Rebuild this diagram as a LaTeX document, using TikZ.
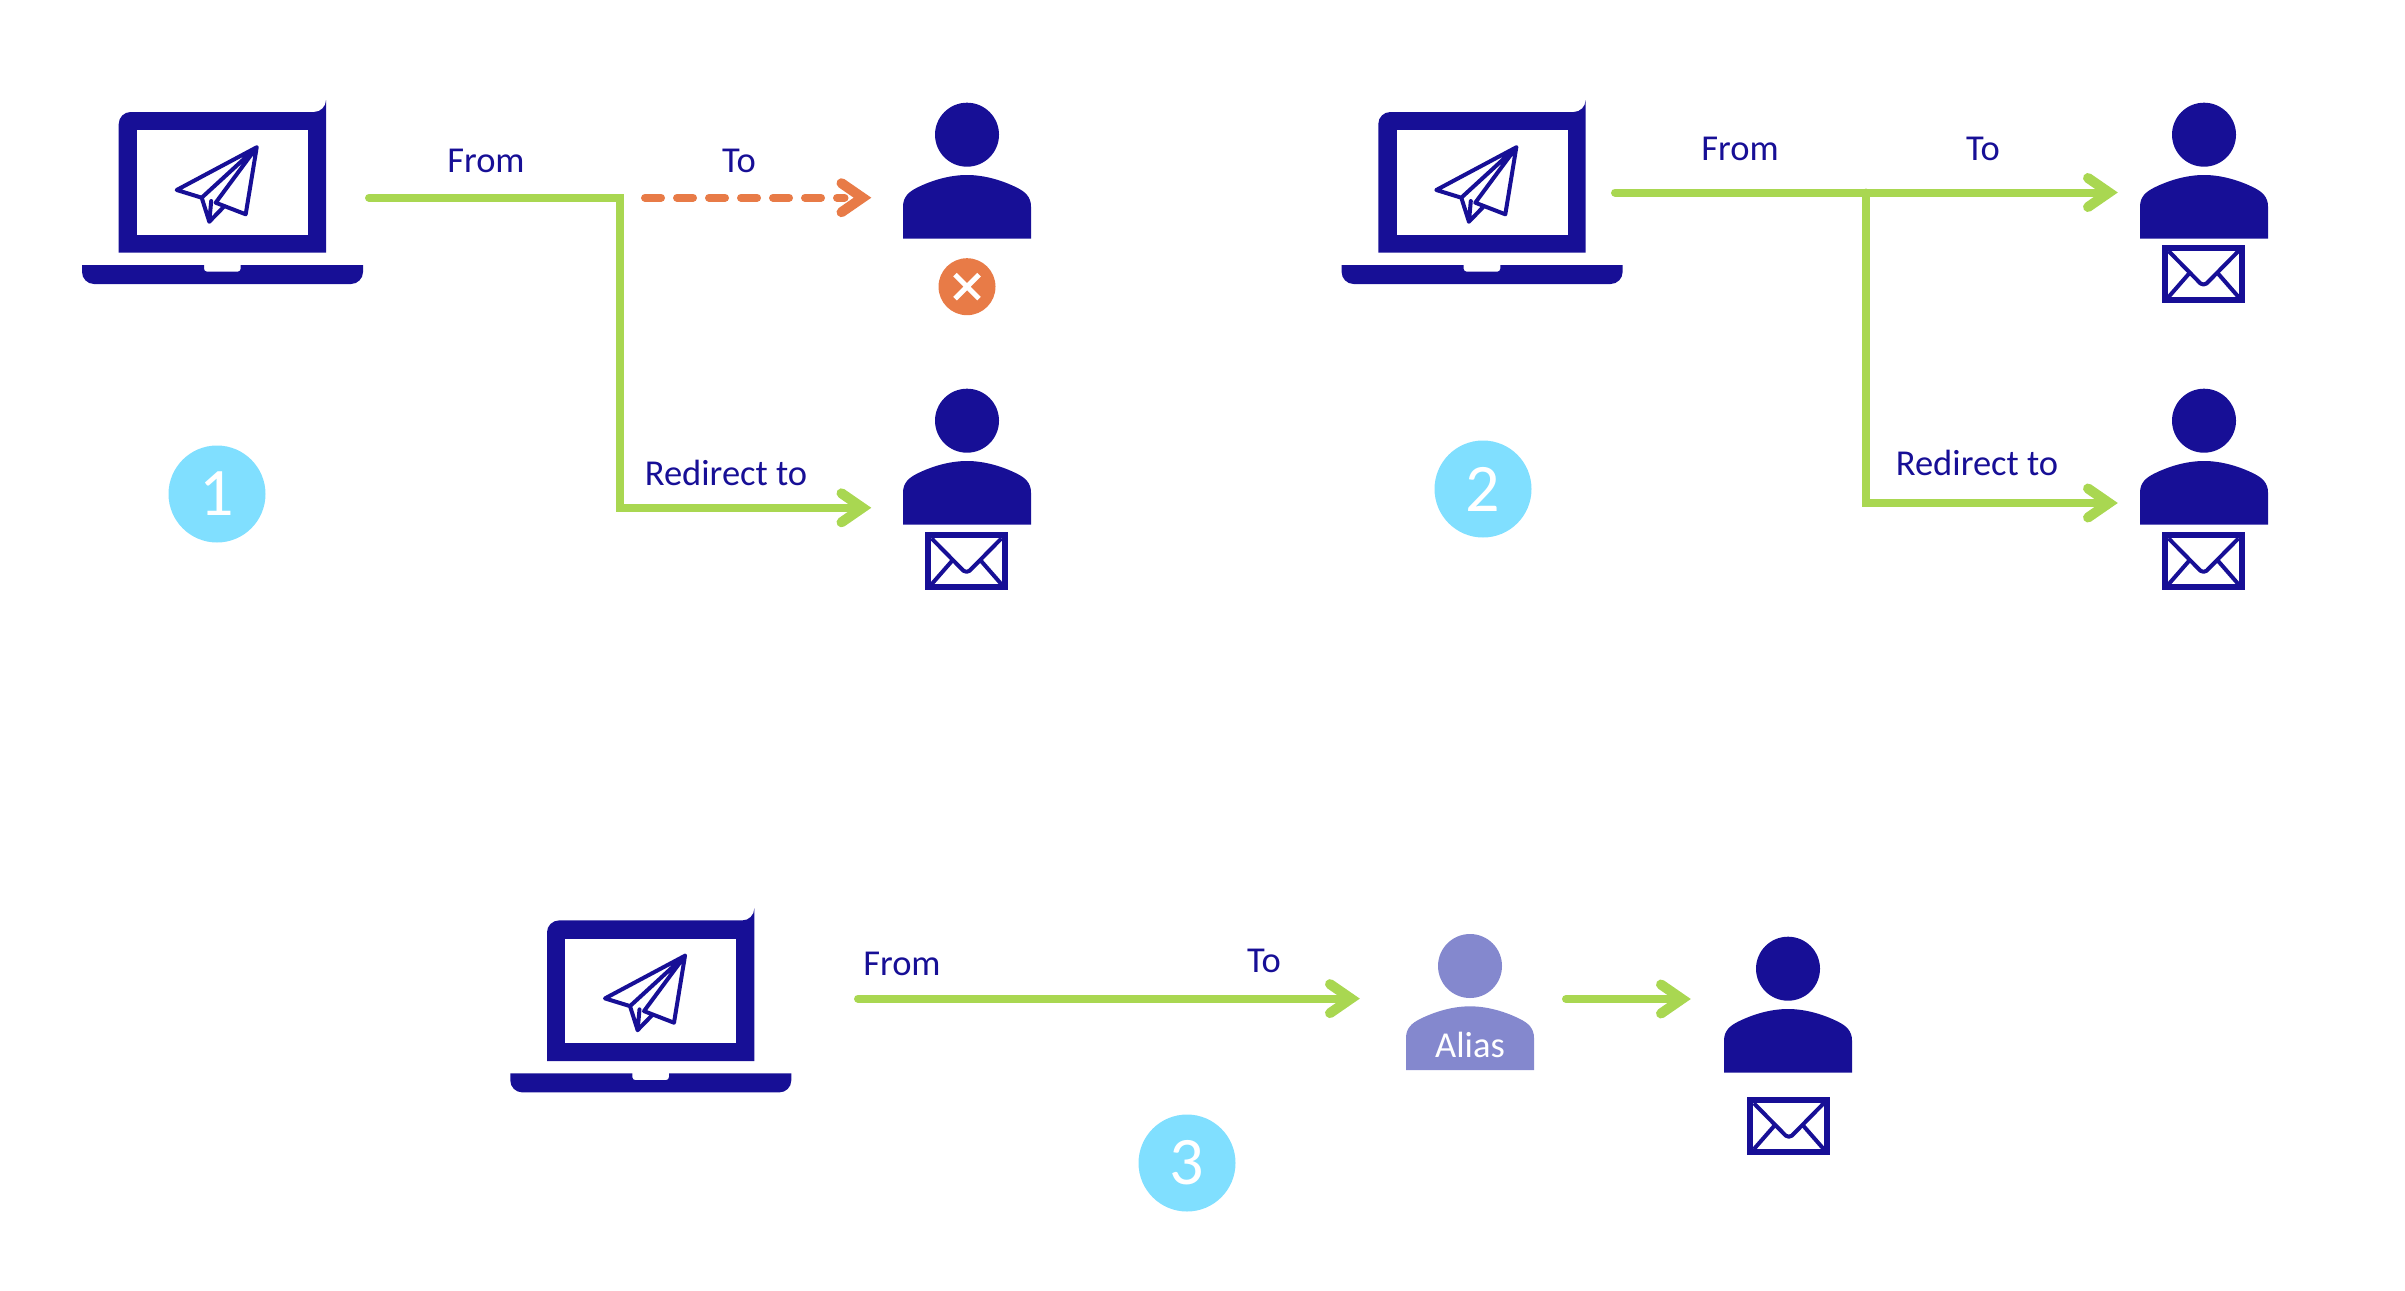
\documentclass[tikz,border=0pt]{standalone}
\usepackage{fontspec}
\setmainfont{Carlito}
\definecolor{navy}{HTML}{170F96}
\definecolor{lime}{HTML}{A9D751}
\definecolor{tang}{HTML}{E87B47}
\definecolor{sky}{HTML}{80DFFF}
\definecolor{aliasc}{HTML}{8488CE}
\tikzset{
  lab/.style={text=navy,font=\fontsize{36.5}{40}\selectfont,inner sep=0pt,anchor=base},
  numdisc/.style={circle,fill=sky,minimum size=97pt,inner sep=0pt,text=white,font=\fontsize{68}{72}\selectfont},
  wire/.style={draw=lime,line width=8pt,line cap=round,line join=miter},
  dashwire/.style={draw=tang,line width=8pt,line cap=round,dash pattern=on 16pt off 16pt},
  headl/.style={line width=10pt,line cap=round,line join=miter,miter limit=20},
}
% laptop at top-left of screen
\newcommand{\laptop}[3]{%
 \begin{scope}[shift={(#1,#2)}]
  \node[inner sep=0pt,minimum size=0pt] (#3) at (104,85) {};
  \fill[navy,even odd rule] [rounded corners=12pt] (0,140.7) [sharp corners] -- (0,140.7) [rounded corners=12pt] -- (0,0) -- (207.3,0) [sharp corners] -- (207.3,0) -- (207.3,140.7) -- cycle;
  \fill[white] (18.3,18.3) rectangle (189.3,122.7);
  \fill[navy] (-36.7,153) -- (85.3,153) [rounded corners=3pt] -- (85.3,159.7) -- (122,159.7) [sharp corners] -- (122,153) -- (244.3,153) [rounded corners=12pt] -- (244.3,172) -- (-36.7,172) [sharp corners] -- cycle;
  \draw[navy,line width=4pt,line join=round,line cap=round]
    (138,35.3) -- (58,78) -- (83,85.7) -- (90.6,109.7) -- (104.6,95.3)
    (138,35.3) -- (83,85.7)
    (138,35.3) -- (127,102.3) -- (97,90.7) -- (138,35.3)
    (92.5,89) -- (90.6,109.7);
 \end{scope}}
% person: head centre x,y
\newcommand{\person}[4]{%
 \begin{scope}[shift={(#1,#2)}]
  \fill[#3] (0,0) circle[radius=32];
  \node[inner sep=0pt] (#4) at (0,50) {};
  \fill[#3] (-64,104) -- (-64,72) .. controls (-64,62) and (-58,57) .. (-50,53) .. controls (-36,46) and (-18,40.3) .. (0,40.3) .. controls (18,40.3) and (36,46) .. (50,53) .. controls (58,57) and (64,62) .. (64,72) -- (64,104) -- cycle;
 \end{scope}}
% envelope: centre x,y
\newcommand{\envelope}[3]{%
 \begin{scope}[shift={(#1,#2)}]
  \node[inner sep=0pt] (#3) at (0,0) {};
  \draw[navy,line width=6pt,line join=miter] (-38.5,-26) rectangle (38.5,26);
  \draw[navy,line width=4pt,line join=round] (-35,-23) -- (-3,9.5) -- (0,10.5) -- (3,9.5) -- (35,-23);
  \draw[navy,line width=4pt] (-14,-1) -- (-35,23) (14,-1) -- (35,23);
 \end{scope}}
\newcommand{\headat}[2]{%
  \draw[#2,headl] ([shift={(-31,-14.5)}]#1) -- ([xshift=-10pt]#1) -- ([shift={(-31,14.5)}]#1);}
\begin{document}
\begin{tikzpicture}[x=1pt,y=-1pt]
\useasboundingbox (0,0) rectangle (2405,1290);
\laptop{118.7}{112}{lapA}
\laptop{1378.3}{112}{lapB}
\laptop{547}{920.4}{lapC}
\person{967}{134.7}{navy}{pA}
\person{967}{420.7}{navy}{pB}
\person{2204}{134.7}{navy}{pC}
\person{2204}{420.7}{navy}{pD}
\person{1470}{966}{aliasc}{pE}
\person{1788}{968.7}{navy}{pF}
\envelope{966.5}{561.3}{eA}
\envelope{2203.5}{274}{eB}
\envelope{2203.5}{561.3}{eC}
\envelope{1788.8}{1126.2}{eD}
% reject badge
\node[circle,fill=tang,minimum size=57pt,inner sep=0pt] (bad) at (967,286.7) {};
\draw[white,line width=5pt] ([shift={(-12,-12)}]bad.center) -- ([shift={(12,12)}]bad.center) ([shift={(12,-12)}]bad.center) -- ([shift={(-12,12)}]bad.center);
% discs
\node[numdisc] (nA) at (217,494) {1};
\node[numdisc] (nB) at (1483,489) {2};
\node[numdisc] (nC) at (1187,1163) {3};
% coordinates
\coordinate (a0) at (369,197.7);
\coordinate (a1) at (620,197.7);
\coordinate (a2) at (620,507.8);
\coordinate (a3) at (872.5,507.8);
\coordinate (a4) at (645,197.7);
\coordinate (a5) at (872.5,197.7);
\coordinate (b0) at (1615,192.5);
\coordinate (b1) at (2119,192.5);
\coordinate (b2) at (1866,192.5);
\coordinate (b3) at (1866,503);
\coordinate (b4) at (2119,503);
\coordinate (c0) at (858,998.6);
\coordinate (c1) at (1361,998.6);
\coordinate (c2) at (1566,999);
\coordinate (c3) at (1692,999);
\draw[wire] (a0) -- (a1) -- (a2) -- ([xshift=-12pt]a3);
\headat{a3}{lime}
\draw[dashwire] (a4) -- ([xshift=-28pt]a5);
\headat{a5}{tang}
\draw[wire] (b0) -- ([xshift=-12pt]b1);
\draw[wire] (b2) -- (b3) -- ([xshift=-12pt]b4);
\headat{b1}{lime}
\headat{b4}{lime}
\draw[wire] (c0) -- ([xshift=-12pt]c1);
\headat{c1}{lime}
\draw[wire] (c2) -- ([xshift=-12pt]c3);
\headat{c3}{lime}
% labels
\node[lab] (t1) at (486,172) {From};
\node[lab] (t2) at (739,172) {To};
\node[lab] (t3) at (726,485) {Redirect to};
\node[lab] (t4) at (1740,160) {From};
\node[lab] (t5) at (1983,160) {To};
\node[lab] (t6) at (1977,475) {Redirect to};
\node[lab] (t7) at (902,975) {From};
\node[lab] (t8) at (1264,972) {To};
\node[lab,text=white] (t9) at (1470,1057) {Alias};
\end{tikzpicture}
\end{document}
